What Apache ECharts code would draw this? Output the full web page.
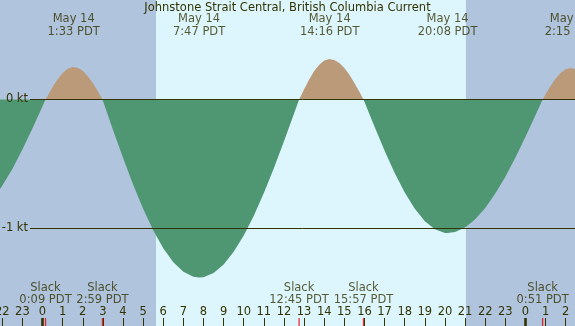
<!DOCTYPE html>
<html>
<head>
<meta charset="utf-8">
<script src="https://cdn.jsdelivr.net/npm/echarts@6/dist/echarts.min.js"></script>
<style>
html,body{margin:0;padding:0;background:#b0c4de;}
#chart{width:575px;height:326px;}
</style>
</head>
<body>
<div id="chart"></div>
<script>
// ---- data (hours relative to midnight May 14, PDT; current in knots) ----
const HOURS = [-2.5, -2, -1.5, -1, -0.5, 0, 0.15, 0.25, 0.5, 0.75, 1, 1.25, 1.5, 1.55, 1.75, 2, 2.25, 2.5, 2.75, 2.98,
  3.5, 4, 4.5, 5, 5.5, 6, 6.5, 7, 7.5, 7.78, 8, 8.5, 9, 9.5, 10, 10.5, 11, 11.5, 12, 12.5, 12.75,
  13, 13.25, 13.5, 13.75, 14, 14.25, 14.5, 14.75, 15, 15.25, 15.5, 15.75, 15.95,
  16.5, 17, 17.5, 18, 18.5, 19, 19.5, 20, 20.13, 20.5, 21, 21.5, 22, 22.5, 23, 23.5, 24, 24.5, 24.85,
  25, 25.25, 25.5, 25.75, 26, 26.25, 26.5];
const CURRENT = [-0.776, -0.669, -0.538, -0.388, -0.224, -0.052, 0, 0.028, 0.096, 0.157, 0.206, 0.238, 0.252, 0.252, 0.246, 0.222, 0.181, 0.127, 0.063, 0,
  -0.234, -0.452, -0.658, -0.847, -1.013, -1.153, -1.261, -1.335, -1.374, -1.380, -1.377, -1.345, -1.279, -1.181, -1.054, -0.901, -0.725, -0.531, -0.324, -0.109, 0,
  0.080, 0.155, 0.220, 0.270, 0.302, 0.314, 0.307, 0.283, 0.244, 0.191, 0.128, 0.058, 0,
  -0.212, -0.398, -0.569, -0.721, -0.847, -0.943, -1.006, -1.034, -1.035, -1.027, -0.992, -0.929, -0.841, -0.729, -0.598, -0.450, -0.289, -0.120, 0,
  0.041, 0.106, 0.163, 0.207, 0.235, 0.245, 0.235];
const HOUR_TICKS = [-2,-1,0,1,2,3,4,5,6,7,8,9,10,11,12,13,14,15,16,17,18,19,20,21,22,23,24,25,26];
const MIDNIGHTS = [0, 24];
const EXTREME_HOURS = [1.55, 7.78, 14.27, 20.13, 26.25];
const EXTREME_DATES = ['May 14', 'May 14', 'May 14', 'May 14', 'May 15'];
const EXTREME_TIMES = ['1:33 PDT', '7:47 PDT', '14:16 PDT', '20:08 PDT', '2:15 PDT'];
const SLACK_HOURS = [0.15, 2.98, 12.75, 15.95, 24.85];
const SLACK_TIMES = ['0:09 PDT', '2:59 PDT', '12:45 PDT', '15:57 PDT', '0:51 PDT'];
const SUNRISE = 5.64, SUNSET = 21.04;
const DATUMS = [0, -1];
const TITLE = 'Johnstone Strait Central, British Columbia Current';

// ---- view window / styles ----
const X_MIN = -2.112, X_MAX = 26.46;
const Y_MIN = -1.7558, Y_MAX = 0.7713;
const DATUM_START = -0.62;
const NIGHT = '#b0c4de', DAY = '#ddf6fe', EBB = '#4f9672', FLOOD = '#bb9a7a';
const INK = '#333300', SLACK_RED = '#ee0000';
const FONT = 'DejaVu Sans', FS = 11.5;

const curveData = HOURS.map((h, i) => [h, CURRENT[i]]);
const fmtHour = v => String(((Math.round(v) % 24) + 24) % 24);

const chart = echarts.init(document.getElementById('chart'), null, {renderer: 'canvas'});
chart.setOption({
  animation: false,
  backgroundColor: NIGHT,
  title: {
    text: TITLE, left: 'center', top: 2, padding: 0,
    textStyle: {fontFamily: FONT, fontSize: FS, fontWeight: 'normal', color: INK}
  },
  grid: {left: 0, right: 0, top: 0, bottom: 0, containLabel: false, outerBoundsMode: 'none'},
  xAxis: {
    type: 'value', min: X_MIN, max: X_MAX, position: 'bottom', z: 10,
    axisLine: {show: false, onZero: false}, splitLine: {show: false},
    axisTick: {show: true, inside: true, length: 8, customValues: HOUR_TICKS, lineStyle: {color: INK, width: 1}},
    axisLabel: {show: true, inside: true, margin: 8, customValues: HOUR_TICKS, formatter: fmtHour,
      fontFamily: FONT, fontSize: FS, color: INK, hideOverlap: false}
  },
  yAxis: {type: 'value', min: Y_MIN, max: Y_MAX, show: false},
  visualMap: {
    show: false, type: 'piecewise', seriesIndex: 2, dimension: 1,
    pieces: [{gte: -5, lt: 0, color: EBB}, {gte: 0, lte: 5, color: FLOOD}]
  },
  series: [
    {
      type: 'line', data: [], z: 0, silent: true,
      markArea: {silent: true, itemStyle: {color: DAY}, data: [[{xAxis: SUNRISE}, {xAxis: SUNSET}]]}
    },
    {
      type: 'line', data: [], z: 1, silent: true,
      markLine: {
        silent: true, symbol: ['none', 'none'],
        lineStyle: {color: INK, width: 1, type: 'solid'},
        label: {show: true, position: 'start', distance: 2, formatter: '{b}',
          fontFamily: FONT, fontSize: FS, color: INK},
        data: DATUMS.map(d => [{name: d + ' kt', coord: [DATUM_START, d]}, {coord: [X_MAX, d]}])
      }
    },
    {
      type: 'line', data: curveData, z: 2, smooth: false, symbol: 'none', silent: true,
      lineStyle: {width: 0}, areaStyle: {opacity: 1}
    },
    {
      type: 'scatter', z: 3, symbolSize: 0, clip: false, silent: true,
      data: EXTREME_HOURS.map((h, i) => ({value: [h, Y_MAX], name: EXTREME_DATES[i] + '\n' + EXTREME_TIMES[i]})),
      label: {show: true, position: 'inside', offset: [0, 25.5], formatter: '{b}', align: 'center', verticalAlign: 'middle',
        lineHeight: 12.5, fontFamily: FONT, fontSize: FS, color: INK}
    },
    {
      type: 'scatter', z: 3, symbolSize: 0, clip: false, silent: true,
      data: SLACK_HOURS.map((h, i) => ({value: [h, Y_MIN], name: 'Slack\n' + SLACK_TIMES[i]})),
      label: {show: true, position: 'inside', offset: [0, -32.2], formatter: '{b}', align: 'center', verticalAlign: 'middle',
        lineHeight: 12.5, fontFamily: FONT, fontSize: FS, color: INK}
    },
    {
      type: 'scatter', z: 11, symbol: 'rect', symbolSize: [3, 8], symbolOffset: [0, -4], clip: false, silent: true,
      itemStyle: {color: INK}, data: MIDNIGHTS.map(h => [h, Y_MIN])
    },
    {
      type: 'scatter', z: 11, symbol: 'rect', symbolSize: [1.3, 8], symbolOffset: [0, -4], clip: false, silent: true,
      itemStyle: {color: SLACK_RED}, data: SLACK_HOURS.map(h => [h, Y_MIN])
    }
  ]
});
</script>
</body>
</html>
